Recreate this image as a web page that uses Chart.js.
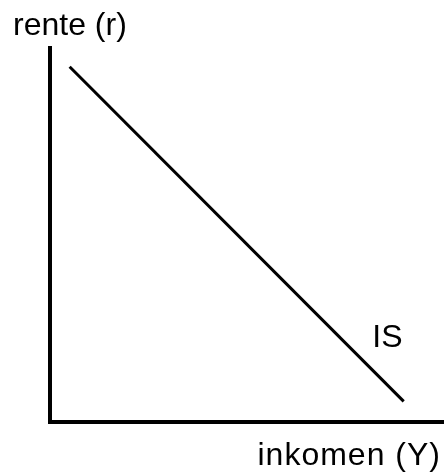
<!DOCTYPE html>
<html>
<head>
<meta charset="utf-8">
<script src="https://cdn.jsdelivr.net/npm/chart.js@4"></script>
<style>
  body { margin: 0; background: #fff; }
</style>
</head>
<body>
<canvas id="myChart" width="448" height="472"></canvas>
<script>
// IS curve: income (Y) on x, interest rate (r) on y
const incomeY = [5, 90];
const rateR = [95, 5.5];

// axis names and curve label
const yName = 'rente (r)';
const xName = 'inkomen (Y)';
const curveName = 'IS';
const curveLabelAt = [82, 20];

const points = incomeY.map((x, i) => ({ x: x, y: rateR[i] }));

// draws the axis names and the IS label as plain text
const labelsPlugin = {
    id: 'labels',
    afterDraw(chart) {
        const ctx = chart.ctx;
        const xs = chart.scales.x;
        const ys = chart.scales.y;
        ctx.save();
        ctx.fillStyle = '#000';
        ctx.font = '32px "Liberation Sans", Arial, sans-serif';
        ctx.textBaseline = 'alphabetic';

        ctx.textAlign = 'left';
        ctx.fillText(yName, 13, 35);

        ctx.fillText(curveName, xs.getPixelForValue(curveLabelAt[0]), ys.getPixelForValue(curveLabelAt[1]));

        ctx.textAlign = 'right';
        ctx.letterSpacing = '1px';
        ctx.fillText(xName, 441, 465);
        ctx.restore();
    }
};

const config = {
    type: 'line',
    data: {
        datasets: [{
            label: curveName,
            data: points,
            borderColor: '#000',
            borderWidth: 3,
            pointRadius: 0,
            tension: 0,
            fill: false
        }]
    },
    options: {
        responsive: false,
        animation: false,
        layout: { padding: { left: 50, top: 48, right: 5, bottom: 50 } },
        plugins: {
            legend: { display: false },
            tooltip: { enabled: false }
        },
        scales: {
            x: {
                type: 'linear',
                min: 0,
                max: 100,
                grid: { display: false, drawTicks: false },
                border: { display: true, color: '#000', width: 4 },
                ticks: { display: false }
            },
            y: {
                type: 'linear',
                min: 0,
                max: 100,
                grid: { display: false, drawTicks: false },
                border: { display: true, color: '#000', width: 4 },
                ticks: { display: false }
            }
        }
    },
    plugins: [labelsPlugin]
};

const myChart = new Chart(document.getElementById('myChart'), config);
</script>
</body>
</html>
